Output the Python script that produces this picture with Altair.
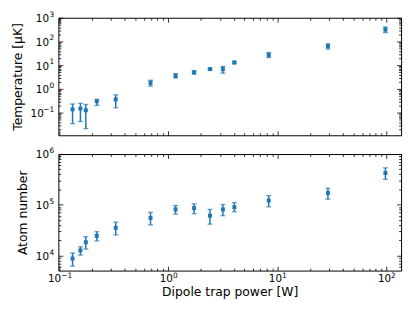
import math
import altair as alt
import pandas as pd

# ---- data ----
power = [0.133, 0.157, 0.176, 0.222, 0.331, 0.69, 1.17, 1.73, 2.42, 3.18, 4.05, 8.36, 29.2, 98.2]
temp = [0.137, 0.147, 0.125, 0.30, 0.36, 1.78, 3.5, 4.96, 6.8, 6.8, 12.9, 26.9, 63.6, 316]
temp_lo = [0.034, 0.042, 0.021, 0.20, 0.16, 1.3, 2.9, 4.2, 6.2, 4.6, 11.5, 20.9, 47.9, 237]
temp_hi = [0.23, 0.245, 0.22, 0.36, 0.56, 2.3, 4.4, 5.8, 7.4, 8.8, 14.5, 33.9, 79.4, 409]
atoms = [8800, 12700, 18400, 24500, 35400, 55300, 81500, 86300, 61300, 81500, 90200, 121700, 171000, 424000]
atoms_lo = [6240, 10300, 13500, 19600, 25600, 40400, 66000, 67000, 41800, 61300, 73300, 91500, 129000, 318000]
atoms_hi = [11300, 15000, 23700, 29600, 45700, 71300, 97300, 105000, 81500, 101800, 111000, 152000, 213000, 535000]

x_domain = [0.0986, 136.7]
t_domain = [0.011, 1000]
n_domain = [5100, 1000000]

W = 347
H1 = 119
H2 = 118
COLOR = "#1f77b4"
FONT = "DejaVu Sans"
BASE_SIZE = 10.5
EXP_SIZE = 7.5

df = pd.DataFrame({
    "p": power,
    "t": temp, "t_lo": temp_lo, "t_hi": temp_hi,
    "n": atoms, "n_lo": atoms_lo, "n_hi": atoms_hi,
})


def all_ticks(lo, hi):
    vals = []
    for e in range(-3, 7):
        for m in range(1, 10):
            v = float(f"{m}e{e}")
            if lo <= v <= hi:
                vals.append(v)
    return vals


def major_ticks(lo, hi):
    return [float(f"1e{e}") for e in range(-3, 7) if lo <= float(f"1e{e}") <= hi]


def exp_expr(vals):
    expr = "''"
    for v in reversed(vals):
        e = round(math.log10(v))
        lab = str(e).replace("-", "\u2212")
        expr = f"abs(log(datum.value)/LN10 - ({e})) < 0.01 ? '{lab}' : " + expr
    return expr


NEG = "datum.value < 0.999"
MAJOR_TEST = "abs(log(datum.value)/LN10 - round(log(datum.value)/LN10)) < 0.001"
TICK_SIZE = {"condition": {"test": MAJOR_TEST, "value": 4.5}, "value": 2.5}
# horizontal shift that centres "10" + exponent on the tick
X_SHIFT = {"condition": {"test": NEG, "value": 1.7}, "value": 4.4}
# padding of the "10" part of y labels, leaving room for the exponent
Y_PAD = {"condition": {"test": NEG, "value": 15.3}, "value": 10.0}


def panel(ycol, H, ydom, ytitle, show_x):
    xs = alt.Scale(type="log", domain=x_domain, nice=False)
    ys = alt.Scale(type="log", domain=ydom, nice=False)
    xmaj = major_ticks(*x_domain)
    xall = all_ticks(*x_domain)
    ymaj = major_ticks(*ydom)
    yall = all_ticks(*ydom)

    common = dict(grid=False, domain=False, labelOverlap=False, labelFlush=False)

    x_base = alt.Axis(orient="bottom", values=xmaj, labelExpr="'10'", labels=show_x, ticks=False,
                      labelAlign="right", labelOffset=X_SHIFT, labelPadding=3,
                      labelFontSize=BASE_SIZE, titlePadding=2, **common)
    y_base = alt.Axis(orient="left", values=ymaj, labelExpr="'10'", ticks=False,
                      labelPadding=Y_PAD, labelOffset=1, labelFontSize=BASE_SIZE,
                      titlePadding=6, **common)
    x_exp = alt.Axis(orient="bottom", values=xmaj, labelExpr=exp_expr(xmaj), ticks=False,
                     labelAlign="left", labelOffset=X_SHIFT, labelPadding=1.5,
                     labelFontSize=EXP_SIZE, **common)
    y_exp = alt.Axis(orient="left", values=ymaj, labelExpr=exp_expr(ymaj), ticks=False,
                     labelPadding=4.7, labelOffset=-3.5, labelFontSize=EXP_SIZE,
                     **common)
    x_in_bottom = alt.Axis(orient="top", offset=-H, values=xall, labels=False,
                           ticks=True, tickSize=TICK_SIZE, **common)
    x_in_top = alt.Axis(orient="bottom", offset=-H, values=xall, labels=False,
                        ticks=True, tickSize=TICK_SIZE, **common)
    y_in_left = alt.Axis(orient="right", offset=-W, values=yall, labels=False,
                         ticks=True, tickSize=TICK_SIZE, **common)
    y_in_right = alt.Axis(orient="left", offset=-W, values=yall, labels=False,
                          ticks=True, tickSize=TICK_SIZE, **common)

    base = alt.Chart(df)
    bars = base.mark_rule(color=COLOR, strokeWidth=1.5).encode(
        x=alt.X("p:Q", scale=xs, axis=x_base,
                title="Dipole trap power [W]" if show_x else None),
        y=alt.Y(f"{ycol}_lo:Q", scale=ys, axis=y_base, title=ytitle),
        y2=f"{ycol}_hi:Q",
    )
    cap_lo = base.mark_tick(color=COLOR, orient="horizontal", size=5, thickness=1.3).encode(
        x=alt.X("p:Q", scale=xs, axis=x_in_bottom, title=None),
        y=alt.Y(f"{ycol}_lo:Q", scale=ys, axis=y_in_left, title=None),
    )
    cap_hi = base.mark_tick(color=COLOR, orient="horizontal", size=5, thickness=1.3).encode(
        x=alt.X("p:Q", scale=xs, axis=x_in_top, title=None),
        y=alt.Y(f"{ycol}_hi:Q", scale=ys, axis=y_in_right, title=None),
    )
    pts = base.mark_point(color=COLOR, filled=True, shape="square", size=16, opacity=1).encode(
        x=alt.X("p:Q", scale=xs, axis=x_exp if show_x else None, title=None),
        y=alt.Y(f"{ycol}:Q", scale=ys, axis=y_exp, title=None),
    )
    return alt.layer(bars, cap_lo, cap_hi, pts).properties(width=W, height=H).resolve_axis(
        x="independent", y="independent")


top = panel("t", H1, t_domain, "Temperature [μK]", False)
bottom = panel("n", H2, n_domain, "Atom number", True)

chart = alt.vconcat(top, bottom, spacing=10).properties(
    padding={"left": 2, "top": 0, "right": 5, "bottom": 5},
    background="white",
).configure_view(stroke="black", strokeWidth=1).configure_axis(
    labelFont=FONT, labelColor="black",
    titleFont=FONT, titleFontSize=12.5, titleFontWeight="normal", titleColor="black",
    tickColor="black", tickWidth=0.8,
)

chart.save("out.html", embed_options={"renderer": "svg", "actions": False})
